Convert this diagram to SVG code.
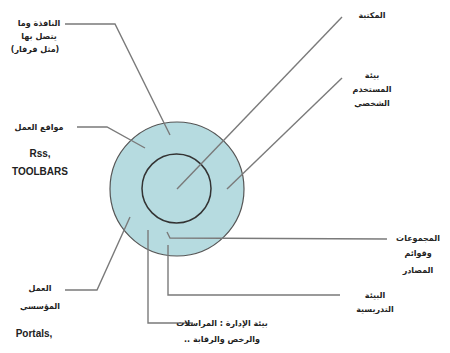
<svg xmlns="http://www.w3.org/2000/svg" width="450" height="353" viewBox="0 0 450 353">
<style>
.ln{fill:none;stroke:#7a7a7a;stroke-width:1.4}
.ar{font-family:"DejaVu Sans",sans-serif;font-size:8px;font-weight:bold;fill:#222;text-anchor:middle}
.en{font-family:"Liberation Sans",Arial,sans-serif;font-size:10px;font-weight:bold;fill:#222;text-anchor:middle}
</style>
<rect width="450" height="353" fill="#fff"/>
<g id="outer"><circle cx="177" cy="189" r="67" fill="#b6dbe0" stroke="#555" stroke-width="1.2"/></g>
<g id="inner"><circle cx="176.5" cy="188.5" r="34.5" fill="#b6dbe0" stroke="#333" stroke-width="1.5"/></g>
<g id="connectors">
<polyline class="ln" points="65,24 115,24 170,135"/>
<polyline class="ln" points="77,127 107,127 145,148"/>
<polyline class="ln" points="342,17 177,189"/>
<polyline class="ln" points="342,78 227,189"/>
<polyline class="ln" points="167,232 170,238 387,239"/>
<polyline class="ln" points="168,245 168,295 340,295"/>
<polyline class="ln" points="148,230 148,323 193,323"/>
<polyline class="ln" points="65,290 97,290 130,217"/>
</g>
<g id="label-window"><text class="ar" direction="rtl" x="39" y="26">النافذة وما</text><text class="ar" direction="rtl" x="39" y="39">يتصل بها</text><text class="ar" direction="rtl" x="35" y="52">(مثل فرفار)</text></g>
<g id="label-sites"><text class="ar" direction="rtl" x="39" y="130">مواقع العمل</text></g>
<g id="label-rss"><text class="en" x="40" y="157">Rss,</text><text class="en" x="40" y="175">TOOLBARS</text></g>
<g id="label-inst"><text class="ar" direction="rtl" x="40" y="291">العمل</text><text class="ar" direction="rtl" x="40" y="309">المؤسسي</text><text class="en" x="34" y="337">Portals,</text></g>
<g id="label-admin"><text class="ar" direction="rtl" x="222" y="326">بيئة الإدارة : المراسلات</text><text class="ar" direction="rtl" x="222" y="342">والرخص والرقابة ..</text></g>
<g id="label-library"><text class="ar" direction="rtl" x="372" y="18">المكتبة</text></g>
<g id="label-personal"><text class="ar" direction="rtl" x="372" y="78">بيئة</text><text class="ar" direction="rtl" x="372" y="92">المستخدم</text><text class="ar" direction="rtl" x="372" y="106">الشخصي</text></g>
<g id="label-collections"><text class="ar" direction="rtl" x="418" y="241">المجموعات</text><text class="ar" direction="rtl" x="418" y="256">وقوائم</text><text class="ar" direction="rtl" x="418" y="273">المصادر</text></g>
<g id="label-teaching"><text class="ar" direction="rtl" x="375" y="298">البيئة</text><text class="ar" direction="rtl" x="375" y="312">التدريسية</text></g>
</svg>
